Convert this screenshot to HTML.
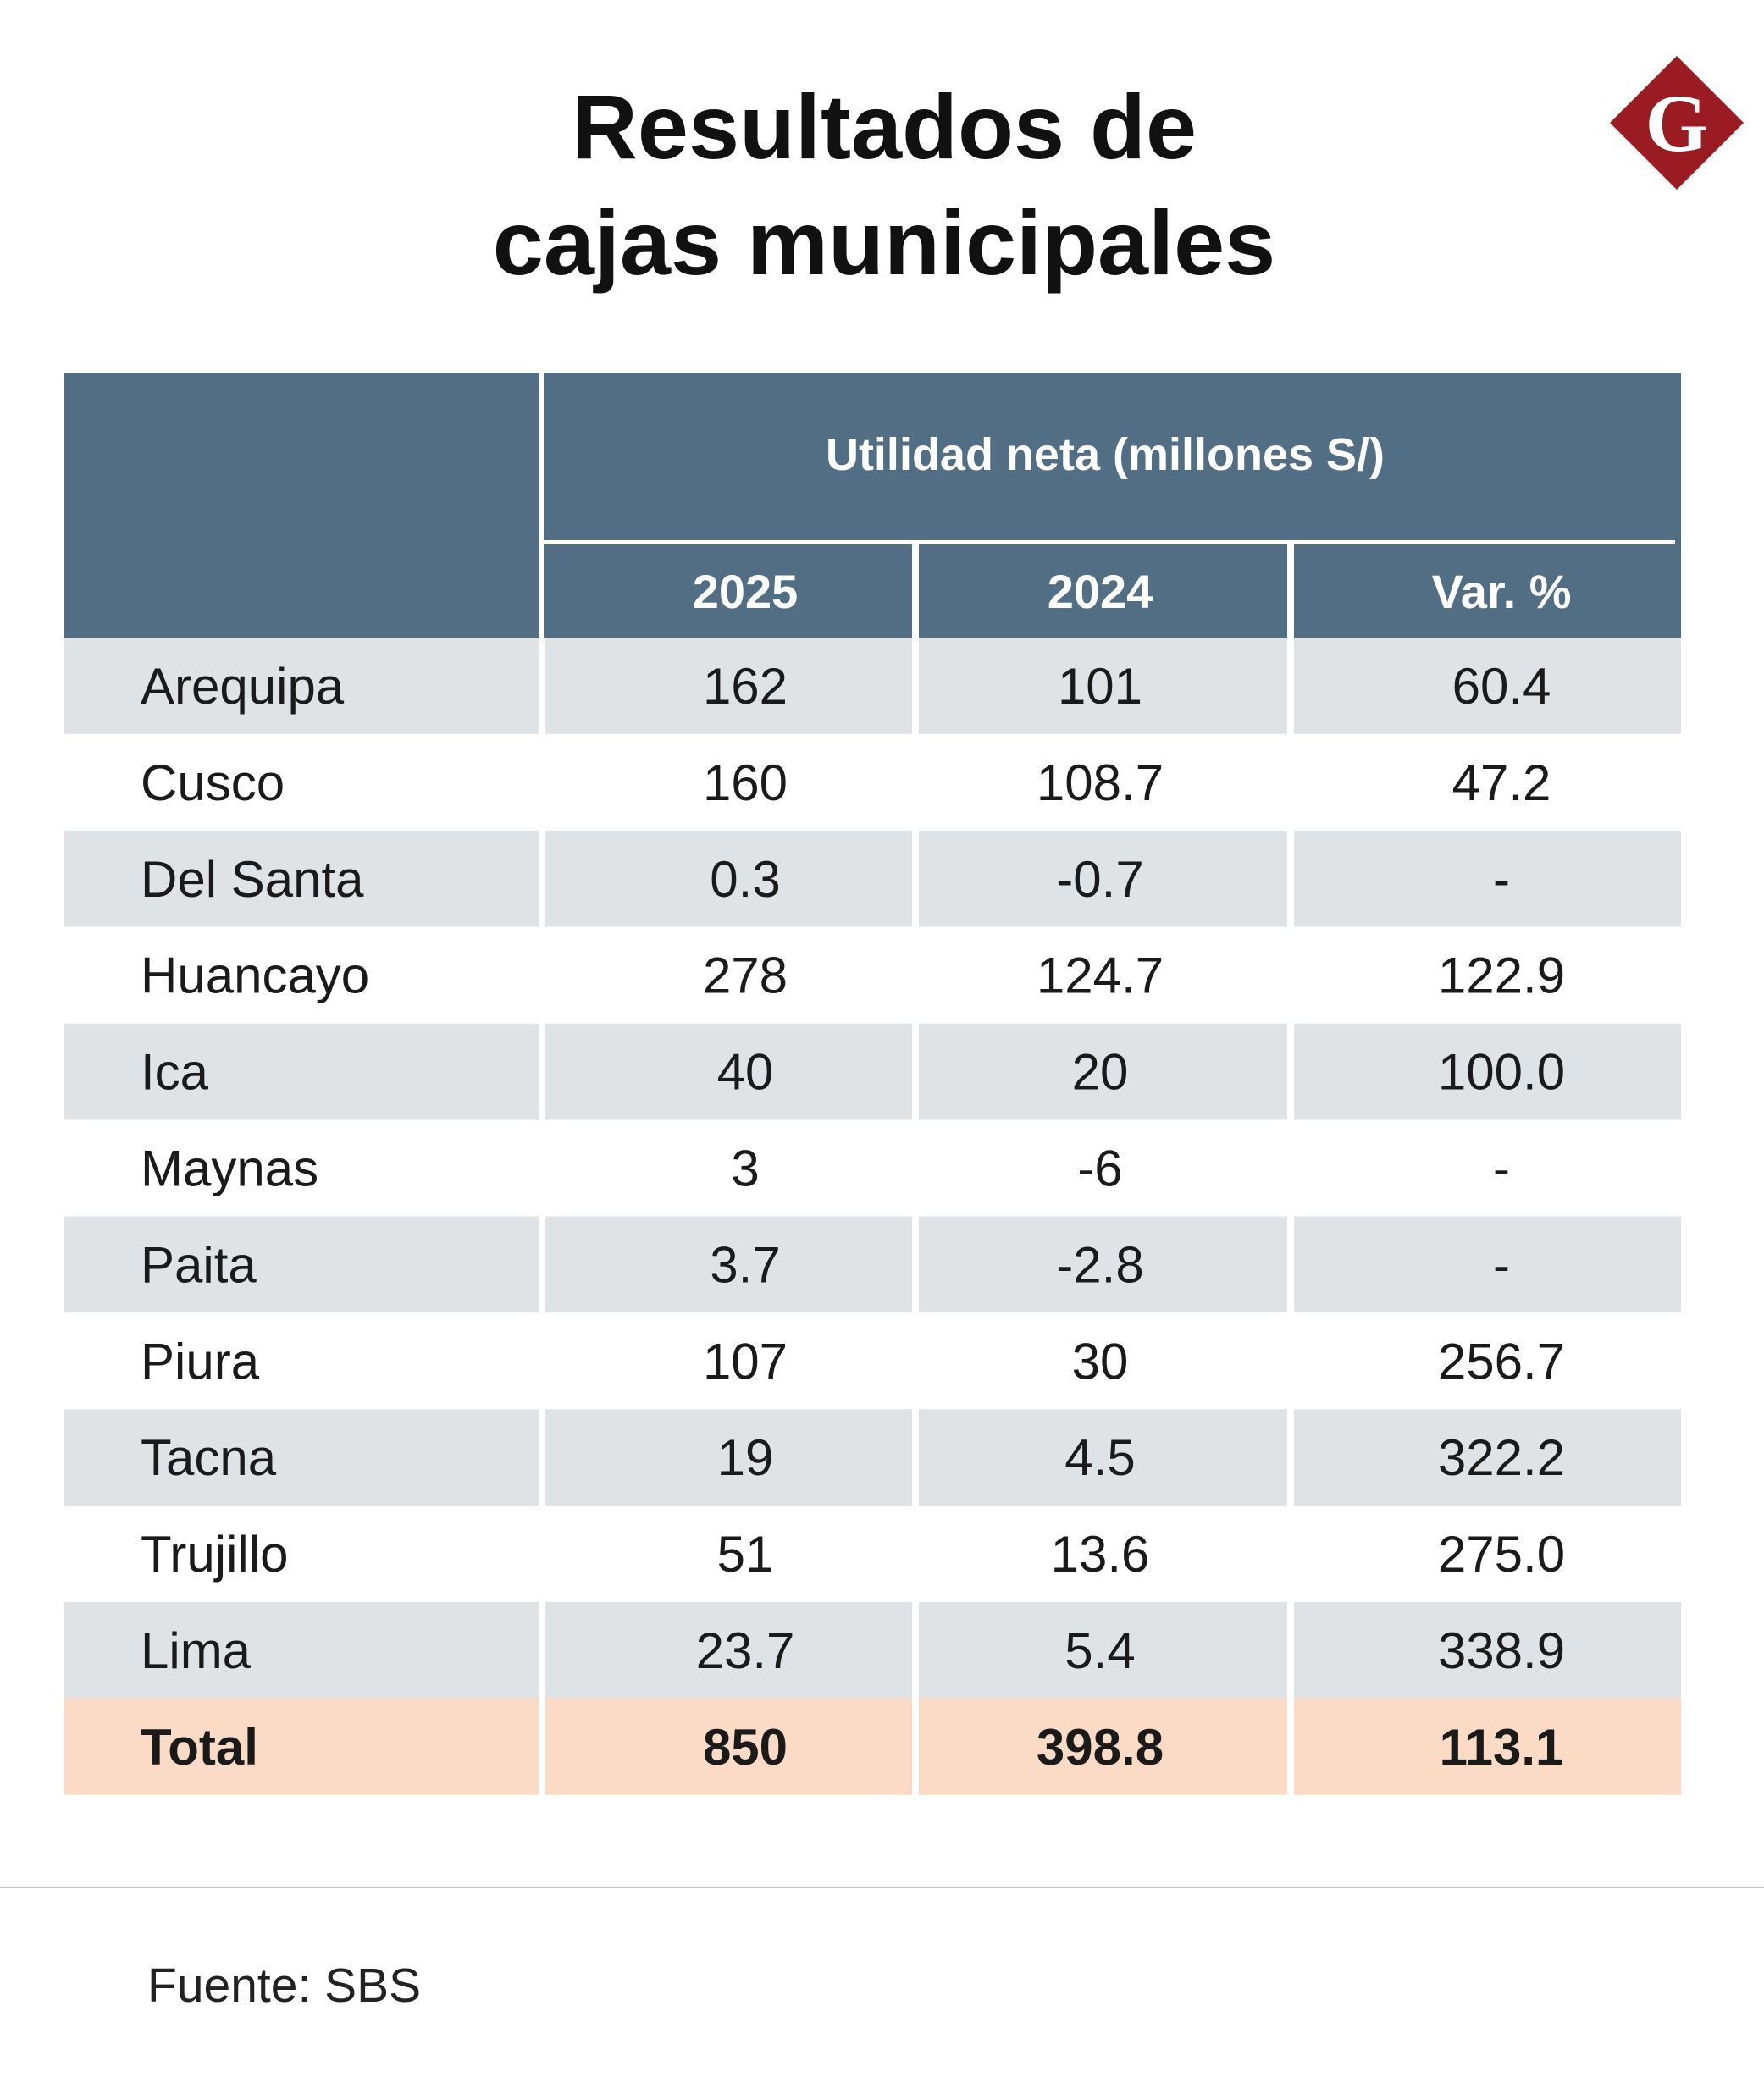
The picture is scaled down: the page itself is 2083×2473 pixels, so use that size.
<!DOCTYPE html>
<html><head><meta charset="utf-8">
<style>
html,body{margin:0;padding:0;background:#fff;}
svg{display:block;}
</style></head>
<body>
<svg id="chart" width="2083" height="2473" viewBox="0 0 2083 2473" xmlns="http://www.w3.org/2000/svg" font-family="'Liberation Sans', sans-serif">
  <text x="1044" y="187" text-anchor="middle" font-size="108" font-weight="bold" fill="#111">Resultados de</text>
  <text x="1044" y="324" text-anchor="middle" font-size="108" font-weight="bold" fill="#111">cajas municipales</text>
  <g>
    <polygon points="1980,66 2059,145 1980,224 1901,145" fill="#9b1b22"/>
    <text x="1980" y="178" text-anchor="middle" font-family="'Liberation Serif', serif" font-weight="bold" font-size="96" fill="#fff">G</text>
  </g>
  <rect x="76" y="440" width="1909" height="313" fill="#526e84"/>
  <rect x="636" y="440" width="6" height="313" fill="#fff"/>
  <rect x="642" y="638" width="1336" height="5" fill="#fff"/>
  <rect x="1077" y="643" width="8" height="110" fill="#fff"/>
  <rect x="1520" y="643" width="8" height="110" fill="#fff"/>
  <text x="1305" y="555" text-anchor="middle" font-size="54" font-weight="bold" fill="#fff">Utilidad neta (millones S/)</text>
  <g id="rows"></g>
  <rect x="0" y="2228" width="2083" height="2" fill="#c8c8c8"/>
  <text x="174" y="2364" font-size="57" fill="#222">Fuente: SBS</text>
</svg>
<script>
const headers = ["2025", "2024", "Var. %"];
const names = ["Arequipa","Cusco","Del Santa","Huancayo","Ica","Maynas","Paita","Piura","Tacna","Trujillo","Lima","Total"];
const v2025 = ["162","160","0.3","278","40","3","3.7","107","19","51","23.7","850"];
const v2024 = ["101","108.7","-0.7","124.7","20","-6","-2.8","30","4.5","13.6","5.4","398.8"];
const varPct = ["60.4","47.2","-","122.9","100.0","-","-","256.7","322.2","275.0","338.9","113.1"];

const NS = "http://www.w3.org/2000/svg";
const svg = document.getElementById('chart');
const g = document.getElementById('rows');
const cols = [[76,636],[644,1077],[1085,1520],[1528,1985]];
const centers = [880,1299,1773];
const top0 = 753, rh = 113.9;
function mk(tag, attrs){const e=document.createElementNS(NS,tag);for(const k in attrs)e.setAttribute(k,attrs[k]);return e;}
headers.forEach((h,i)=>{
  const t = mk('text',{x:centers[i],y:718,'text-anchor':'middle','font-size':56,'font-weight':'bold',fill:'#fff'});
  t.textContent = h;
  
  
  svg.appendChild(t);
});
names.forEach((n,r)=>{
  const y = top0 + r*rh;
  const total = r === names.length-1;
  const fill = total ? '#fbdac6' : (r%2===0 ? '#dfe3e6' : '#ffffff');
  cols.forEach(c=>{
    const rect = mk('rect',{x:c[0],y:y,width:c[1]-c[0],height:rh,fill:fill});
    
    
    g.appendChild(rect);
  });
  const ty = y + rh/2 + 21;
  const lab = mk('text',{x:166,y:ty,'font-size':60,fill:'#1a1a1a','font-weight':total?'bold':'normal'});
  lab.textContent = n;
  
  
  g.appendChild(lab);
  [v2025[r], v2024[r], varPct[r]].forEach((v,i)=>{
    const t = mk('text',{x:centers[i],y:ty,'text-anchor':'middle','font-size':60,fill:'#1a1a1a','font-weight':total?'bold':'normal'});
    t.textContent = v;
    
    
    g.appendChild(t);
  });
});
</script>
</body></html>
